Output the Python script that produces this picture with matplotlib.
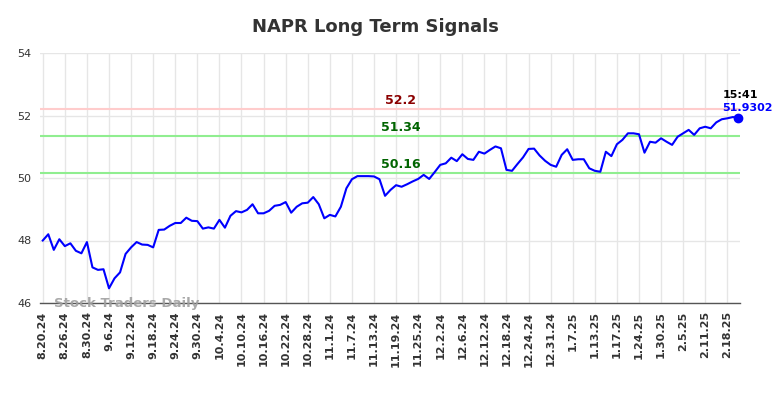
import matplotlib
matplotlib.use("Agg")
import matplotlib.pyplot as plt
import numpy as np

title = "NAPR Long Term Signals"
tick_labels = ["8.20.24", "8.26.24", "8.30.24", "9.6.24", "9.12.24", "9.18.24", "9.24.24",
               "9.30.24", "10.4.24", "10.10.24", "10.16.24", "10.22.24", "10.28.24", "11.1.24",
               "11.7.24", "11.13.24", "11.19.24", "11.25.24", "12.2.24", "12.6.24", "12.12.24",
               "12.18.24", "12.24.24", "12.31.24", "1.7.25", "1.13.25", "1.17.25", "1.24.25",
               "1.30.25", "2.5.25", "2.11.25", "2.18.25"]
tick_step = 4

values = [
    48.00, 48.20, 47.70, 48.04, 47.82, 47.91, 47.67, 47.59, 47.95, 47.14,
    47.06, 47.08, 46.47, 46.79, 46.98, 47.57, 47.78, 47.95, 47.87, 47.86,
    47.78, 48.34, 48.35, 48.47, 48.56, 48.56, 48.73, 48.63, 48.62, 48.38,
    48.42, 48.38, 48.66, 48.41, 48.79, 48.94, 48.90, 48.98, 49.16, 48.87,
    48.87, 48.95, 49.11, 49.14, 49.23, 48.89, 49.08, 49.19, 49.21, 49.39,
    49.16, 48.71, 48.82, 48.77, 49.08, 49.67, 49.96, 50.06, 50.06, 50.06,
    50.05, 49.96, 49.43, 49.62, 49.77, 49.72, 49.80, 49.89, 49.97, 50.10,
    49.97, 50.19, 50.42, 50.47, 50.65, 50.54, 50.76, 50.61, 50.58, 50.84,
    50.78, 50.90, 51.01, 50.95, 50.26, 50.23, 50.45, 50.66, 50.93, 50.94,
    50.72, 50.55, 50.42, 50.36, 50.74, 50.92, 50.58, 50.60, 50.60, 50.31,
    50.23, 50.20, 50.84, 50.70, 51.08, 51.22, 51.43, 51.43, 51.40, 50.81,
    51.16, 51.13, 51.27, 51.16, 51.06, 51.32, 51.43, 51.54, 51.38, 51.59,
    51.64, 51.59, 51.78, 51.88, 51.91, 51.95, 51.9302,
]

resistance = 52.2
mid_level = 51.34
support = 50.16
last_time = "15:41"
last_value = 51.9302
y_ticks = [46, 48, 50, 52, 54]

fig = plt.figure(figsize=(7.84, 3.98), dpi=100)
ax = fig.add_axes([40 / 784, 1 - 303 / 398, 700 / 784, 250 / 398])

x = np.arange(len(values))
ax.plot(x, values, color="#0000ff", lw=1.5, zorder=5)
ax.plot(x[-1], values[-1], "o", color="#0000ff", ms=6, zorder=6, clip_on=False)

ax.axhline(resistance, color="#ffcccc", lw=1.5, zorder=3)
ax.axhline(mid_level, color="#90ee90", lw=1.5, zorder=3)
ax.axhline(support, color="#90ee90", lw=1.5, zorder=3)

lx = 64.8
ax.text(lx, resistance + 0.06, f"{resistance:g}", color="#8b0000", fontsize=9,
        fontweight="bold", ha="center", va="bottom", zorder=7)
ax.text(lx, mid_level + 0.06, f"{mid_level:g}", color="#006400", fontsize=9,
        fontweight="bold", ha="center", va="bottom", zorder=7)
ax.text(lx, support + 0.06, f"{support:g}", color="#006400", fontsize=9,
        fontweight="bold", ha="center", va="bottom", zorder=7)

ax.text(123.1, 52.65, last_time, color="black", fontsize=8, fontweight="bold",
        ha="left", va="center", clip_on=False)
ax.text(123.1, 52.25, f"{last_value}", color="#0000ff", fontsize=8, fontweight="bold",
        ha="left", va="center", clip_on=False)

ax.text(2.0, 46.0, "Stock Traders Daily", color="#a0a0a0", fontsize=9.5,
        fontweight="bold", ha="left", va="center", alpha=0.9, zorder=4)

ax.set_xlim(-0.5, 126.3)
ax.set_ylim(46, 54)
ticks = np.arange(0, len(tick_labels) * tick_step, tick_step)
ax.set_xticks(ticks)
ax.set_xticklabels(tick_labels, rotation=90, fontsize=8, fontweight="bold", color="#333333")
ax.set_yticks(y_ticks)
ax.set_yticklabels([str(v) for v in y_ticks], fontsize=8, color="#333333")
ax.tick_params(axis="both", length=0, pad=6)
ax.grid(True, color="#e6e6e6", lw=1)
ax.set_axisbelow(True)
for s in ["top", "right", "left"]:
    ax.spines[s].set_visible(False)
ax.spines["bottom"].set_color("#555555")
ax.spines["bottom"].set_linewidth(1)

fig.text(375 / 784, 1 - 27 / 398, title, ha="center", va="center", fontsize=13,
         fontweight="bold", color="#333333")

fig.savefig("out.png", dpi=100)
